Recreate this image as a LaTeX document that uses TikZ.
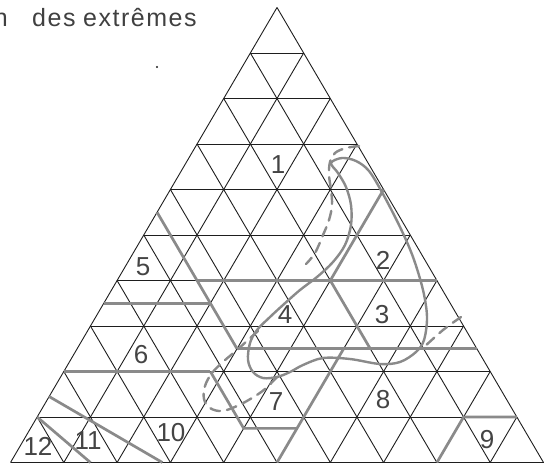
\documentclass[tikz,border=0pt]{standalone}
\usepackage{fontspec}
\setmainfont{Liberation Sans}
\newfontfamily\titlefont[LetterSpace=6]{Liberation Sans}
\begin{document}
\begin{tikzpicture}[x=1pt,y=-1pt]
\definecolor{gridc}{HTML}{1E1E1E}
\definecolor{zonec}{HTML}{8A8A8A}
\definecolor{labc}{HTML}{444444}
\tikzset{
  gridline/.style={draw=gridc, line width=0.9pt},
  zoneline/.style={draw=zonec, line width=2.7pt},
  loopline/.style={draw=zonec, line width=2.4pt, line cap=round},
  dashline/.style={draw=zonec, line width=2.4pt, line cap=round, dash pattern=on 10pt off 7pt},
  lab/.style={font=\fontsize{26}{26}\selectfont, text=labc, inner sep=0pt},
  ttl/.style={font=\titlefont\fontsize{25}{25}\selectfont, text=gridc!85, inner sep=0pt},
}
\useasboundingbox (0,0) rectangle (545,464);
\fill[white] (0,0) rectangle (545,464);

% title
\node[ttl, anchor=base east] (tn) at (8,26) {n};
\node[ttl, anchor=base west] (tdes) at (32,26) {des};
\node[ttl, anchor=base west] (text) at (83,26) {extrêmes};
\fill[gridc] (157,67) circle (1.1);

% triangular grid: x along a row, y down one row
\begin{scope}[shift={(277,7.5)}, x={(53.3pt,0pt)}, y={(-26.65pt,-45.5pt)}]
  \foreach \r in {1,...,10} \draw[gridline] (0,\r) -- (\r,\r);
  \foreach \c in {0,...,9} \draw[gridline] (\c,\c) -- (\c,10);
  \foreach \k in {0,...,9} \draw[gridline] (0,\k) -- (10-\k,10);

  \coordinate (A1) at (0,4.5);
  \coordinate (A6) at (1.5,6);
  \coordinate (A2) at (2,6.5);
  \coordinate (A3) at (3,7.5);
  \coordinate (L65) at (0,6.5);
  \coordinate (R6) at (6,6);
  \coordinate (B1) at (4,4);
  \coordinate (B2) at (4,6);
  \coordinate (C2) at (5.5,7.5);
  \coordinate (R75) at (7.5,7.5);
  \coordinate (D1) at (5,7.5);
  \coordinate (D2) at (5,10);
  \coordinate (L8) at (0,8);
  \coordinate (E1) at (2.75,8);
  \coordinate (E2) at (4,9.25);
  \coordinate (E3) at (5,9.25);
  \coordinate (N98) at (8,9);
  \coordinate (N99) at (9,9);
  \coordinate (N108) at (8,10);
  \coordinate (F1) at (0,8.55);
  \coordinate (F2) at (2.85,10);
  \coordinate (G1) at (0,9);
  \coordinate (G2) at (1.5,10);
\end{scope}

% zone boundaries
\draw[zoneline] (A1) -- (A3);
\draw[zoneline] (L65) -- (A2);
\draw[zoneline] (A6) -- (R6);
\draw[zoneline] (B1) -- (B2) -- (C2);
\draw[zoneline] (A3) -- (R75);
\draw[zoneline] (D1) -- (D2);
\draw[zoneline] (L8) -- (E1);
\draw[zoneline] (E1) -- (E2) -- (E3);
\draw[zoneline] (N108) -- (N98) -- (N99);
\draw[zoneline] (F1) -- (F2);
\draw[zoneline] (G1) -- (G2);

% solid loop
\draw[loopline] plot[smooth cycle, tension=0.55] coordinates {
  (331,163) (342,158) (356,161) (369,171) (383,194) (400,227) (413,257)
  (423,290) (427,317) (424,340) (416,352) (400,362) (380,364) (350,359)
  (323,358) (303,365) (290,372) (277,377) (263,378) (253,372) (248,360)
  (250,343) (257,330) (270,317) (283,305) (300,290) (317,277) (333,262)
  (345,245) (351,225) (351,205) (346,187) (338,173)};

% dashed curves
\draw[dashline] plot[smooth, tension=0.6] coordinates {
  (359,146) (346,148) (335,153) (330,162) (329,175) (331,190) (332,205)
  (329,220) (323,235) (315,253) (306,264)};
\draw[dashline] plot[smooth, tension=0.6] coordinates {
  (258,331) (248,340) (237,350) (224,361) (212,373) (205,386) (204,399)
  (210,408) (222,411) (237,406) (252,398) (265,389) (278,376)};
\draw[dashline] plot[smooth] coordinates {(461,317) (443,330) (423,348)};

% labels
\node[lab] (l1) at (278,165) {1};
\node[lab] (l2) at (383,260) {2};
\node[lab] (l3) at (382,315) {3};
\node[lab] (l4) at (285,315) {4};
\node[lab] (l5) at (143,267) {5};
\node[lab] (l6) at (141,355) {6};
\node[lab] (l7) at (276,402) {7};
\node[lab] (l8) at (383,400) {8};
\node[lab] (l9) at (487,440) {9};
\node[lab] (l10) at (171,433) {10};
\node[lab] (l11) at (88,441) {11};
\node[lab] (l12) at (38,446) {12};
\end{tikzpicture}
\end{document}
